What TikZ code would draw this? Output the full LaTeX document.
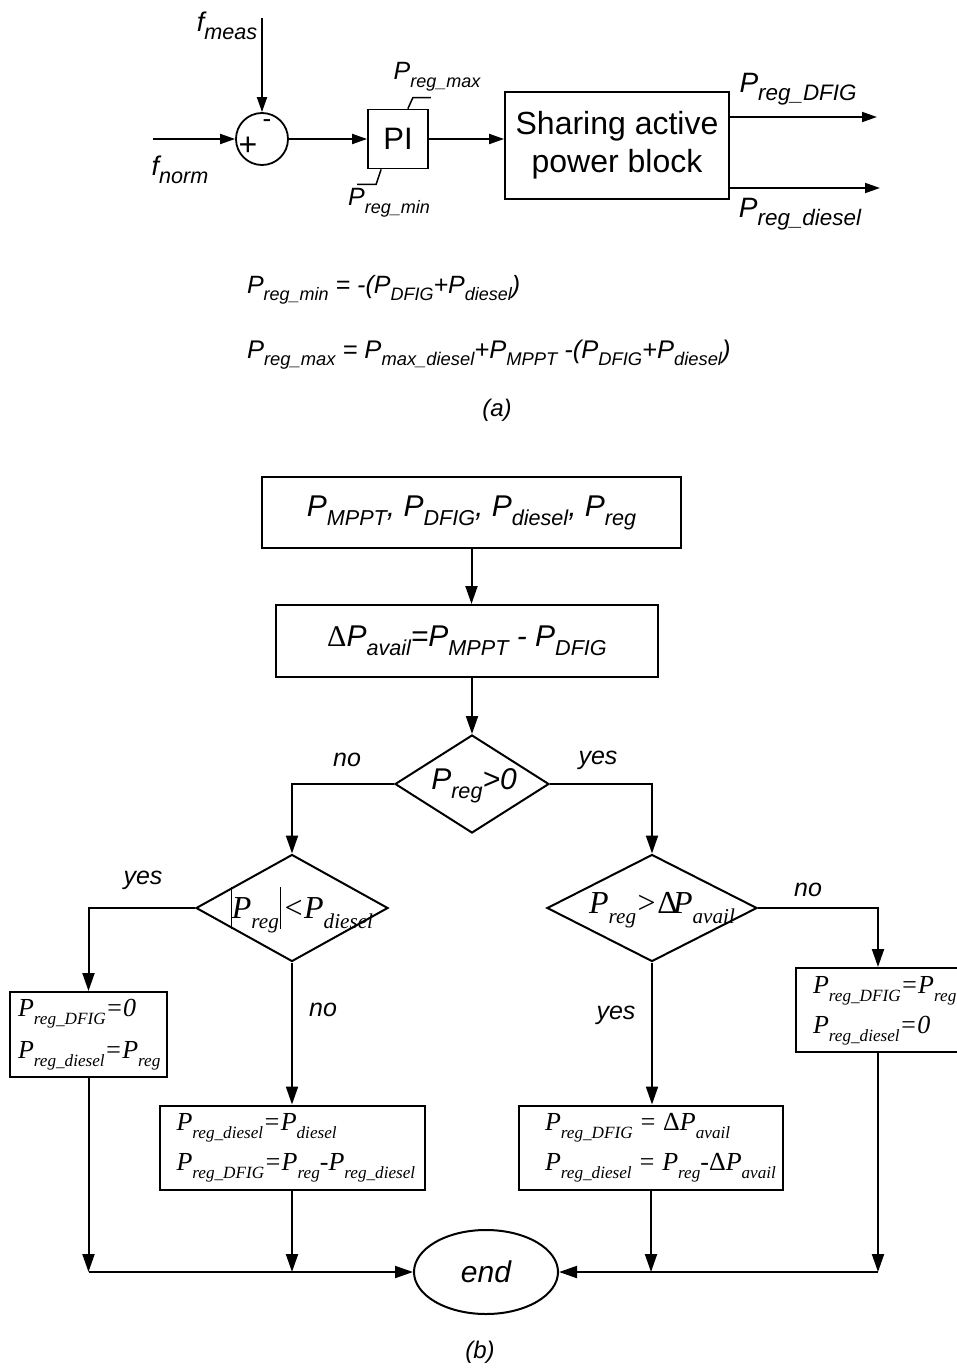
\documentclass[tikz,border=0pt]{standalone}
\usepackage{fontspec}
\setmainfont{Liberation Sans}
\newfontfamily\tms{Liberation Serif}
\usepackage{graphicx}
\usetikzlibrary{shapes.geometric,arrows.meta,calc}
\newcommand\sbs[1]{\raisebox{-0.3em}{\scalebox{0.72}{#1}}}
\newcommand\sbf[1]{\raisebox{-0.3em}{\scalebox{0.8}{#1}}}
\newcommand\sbt[1]{\raisebox{-0.3em}{\scalebox{0.66}{#1}}}
\newcommand\vbarx{\rule[-0.32em]{0.9pt}{1.32em}}
\begin{document}
\begin{tikzpicture}[x=1pt,y=-1pt,line width=2pt,
  arr/.style={-{Triangle[length=18pt,width=12pt]}},
  arra/.style={-{Triangle[length=15pt,width=10pt]},line width=1.8pt},
  fbox/.style={draw,rectangle,inner sep=0pt},
  dia/.style={draw,diamond,inner sep=0pt},
  sfa/.style={inner sep=0pt,font=\fontsize{25}{30}\selectfont\itshape},
  sfb/.style={inner sep=0pt,font=\fontsize{30}{36}\selectfont\itshape},
  yn/.style={inner sep=0pt,font=\fontsize{25}{30}\selectfont\itshape},
  tmb/.style={inner sep=0pt,align=left,anchor=west,font=\tms\itshape\fontsize{26}{40}\selectfont},
  tmd/.style={inner sep=0pt,font=\tms\itshape\fontsize{32}{36}\selectfont}]
\useasboundingbox (0,0) rectangle (956,1370);
% ---------------- (a) ----------------
\node[draw,circle,minimum size=52pt,inner sep=0pt,line width=1.8pt] (sum) at (262,139) {};
\node[inner sep=0pt,font=\fontsize{32}{36}\selectfont] (plus) at (248,146) {+};
\node[inner sep=0pt,font=\fontsize{26}{30}\selectfont] (minus) at (267,124) {-};
\coordinate (fm) at (262,18);
\coordinate (fn) at (153,139);
\draw[arra] (fm) -- (sum.north);
\draw[arra] (fn) -- (sum.west);
\node[sfa,font=\fontsize{27}{30}\selectfont\itshape] (fmeas) at (227,26) {f\sbf{meas}};
\node[sfa,font=\fontsize{27}{30}\selectfont\itshape] (fnorm) at (180,170) {f\sbf{norm}};
\node[fbox,line width=1.8pt,minimum width=60pt,minimum height=59pt,font=\fontsize{31}{36}\selectfont] (pi) at (398,139) {PI};
\draw[arra] (sum.east) -- (pi.west);
\draw[line width=1.5pt] (pi.north east) ++(-21,0) -- ++(5,-11) -- ++(18,0);
\draw[line width=1.5pt] (pi.south west) ++(14,0) -- ++(-5,15) -- ++(-19,0);
\node[sfa] (pmax) at (437,77) {P\sbs{reg\_max}};
\node[sfa] (pmin) at (389,203) {P\sbs{reg\_min}};
\node[fbox,line width=1.8pt,minimum width=224pt,minimum height=107pt,align=center,font=\fontsize{32}{38}\selectfont] (share) at (617,145.5) {Sharing active\\power block};
\draw[arra] (pi.east) -- (pi.east -| share.west);
\coordinate (o1) at (877,117);
\coordinate (o2) at (880,188);
\draw[arra] (o1 -| share.east) -- (o1);
\draw[arra] (o2 -| share.east) -- (o2);
\node[sfa,font=\fontsize{28}{30}\selectfont\itshape] (pdfig) at (798,89) {P\sbf{reg\_DFIG}};
\node[sfa,font=\fontsize{28}{30}\selectfont\itshape] (pdiesel) at (800,214) {P\sbf{reg\_diesel}};
\node[sfa,anchor=base west,font=\fontsize{25}{30}\selectfont\itshape] (eq1) at (246,293) {P\sbs{reg\_min} = -(P\sbs{DFIG}+P\sbs{diesel})};
\node[sfa,anchor=base west,font=\fontsize{25.5}{30}\selectfont\itshape] (eq2) at (246,358) {P\sbs{reg\_max} = P\sbs{max\_diesel}+P\sbs{MPPT} -(P\sbs{DFIG}+P\sbs{diesel})};
\node[sfa,font=\fontsize{24}{28}\selectfont\itshape] (capa) at (497,410) {(a)};
% ---------------- (b) ----------------
\node[fbox,minimum width=419pt,minimum height=71pt,font=\fontsize{30}{36}\selectfont\itshape] (b1) at (471.5,512.5) {P\sbs{MPPT}, P\sbs{DFIG}, P\sbs{diesel}, P\sbs{reg}};
\node[fbox,minimum width=382pt,minimum height=72pt,font=\fontsize{30}{36}\selectfont\itshape] (b2) at (467,641) {{\tms\upshape Δ}P\sbs{avail}=P\sbs{MPPT} - P\sbs{DFIG}};
\node[dia,minimum width=154pt,minimum height=98pt] (d1) at (472,784) {};
\node[sfb] (d1t) at (474,786) {P\sbs{reg}>0};
\draw[arr] (b1.south) -- (b1.south |- b2.north);
\draw[arr] (b2.south -| d1.north) -- (d1.north);
\node[dia,minimum width=192pt,minimum height=107pt] (d2) at (292,908) {};
\node[tmd] (d2t) at (302,910) {\vbarx P\sbt{reg}\kern0.05em\vbarx\kern0.1em{\upshape<}\kern0.05em P\sbt{diesel}};
\node[dia,minimum width=210pt,minimum height=107pt] (d3) at (652,908) {};
\node[tmd] (d3t) at (662,910) {P\sbt{reg}\kern0.05em{\upshape >}\kern0.05em{\upshape Δ}\kern-0.15em P\sbt{avail}};
\draw[arr] (d1.west) -| (d2.north);
\draw[arr] (d1.east) -| (d3.north);
\node[yn] (no1) at (347,760) {no};
\node[yn] (yes1) at (598,760) {yes};
% left branch
\node[fbox,minimum width=157pt,minimum height=85pt] (l1) at (88.5,1034.5) {};
\node[tmb,font=\tms\itshape\fontsize{26}{42}\selectfont] (l1t) at ($(l1.west)+(8,0)$) {P\sbt{reg\_DFIG}=0\\P\sbt{reg\_diesel}=P\sbt{reg}};
\node[fbox,minimum width=265pt,minimum height=84pt] (l2) at (292,1147.5) {};
\node[tmb] (l2t) at ($(l2.west)+(17,0)$) {P\sbt{reg\_diesel}=P\sbt{diesel}\\P\sbt{reg\_DFIG}=P\sbt{reg}-P\sbt{reg\_diesel}};
\draw[arr] (d2.west) -| (l1.north);
\draw[arr] (d2.south) -- (l2.north);
\node[yn] (yes2) at (143,880) {yes};
\node[yn] (no2) at (323,1010) {no};
% right branch
\node[fbox,minimum width=164pt,minimum height=84pt] (r1) at (878,1010) {};
\node[tmb] (r1t) at (812,1011) {P\sbt{reg\_DFIG}=P\sbt{reg}\\P\sbt{reg\_diesel}=0};
\node[fbox,minimum width=264pt,minimum height=84pt] (r2) at (651,1147.5) {};
\node[tmb] (r2t) at ($(r2.west)+(26,0)$) {P\sbt{reg\_DFIG} = {\upshape Δ}P\sbt{avail}\\P\sbt{reg\_diesel} = P\sbt{reg}-{\upshape Δ}P\sbt{avail}};
\draw[arr] (d3.east) -| (r1.north);
\draw[arr] (d3.south) -- (d3.south |- r2.north);
\node[yn] (no3) at (808,890) {no};
\node[yn] (yes3) at (616,1015) {yes};
% end
\node[draw,ellipse,minimum width=144pt,minimum height=84pt,inner sep=0pt,font=\fontsize{30}{36}\selectfont\itshape] (endn) at (486,1272) {end};
\coordinate (jl1) at (l1.south |- endn.west);
\coordinate (jl2) at (l2.south |- endn.west);
\coordinate (jr1) at (r1.south |- endn.east);
\coordinate (jr2) at (r2.south |- endn.east);
\draw[arr] (l1.south) -- (jl1);
\draw[arr] (l2.south) -- (jl2);
\draw[arr] (r1.south) -- (jr1);
\draw[arr] (r2.south) -- (jr2);
\draw[arr] (jl1) -- (endn.west);
\draw[arr] (jr1) -- (endn.east);
\node[sfa,font=\fontsize{24}{28}\selectfont\itshape] (capb) at (480,1352) {(b)};
\end{tikzpicture}
\end{document}
